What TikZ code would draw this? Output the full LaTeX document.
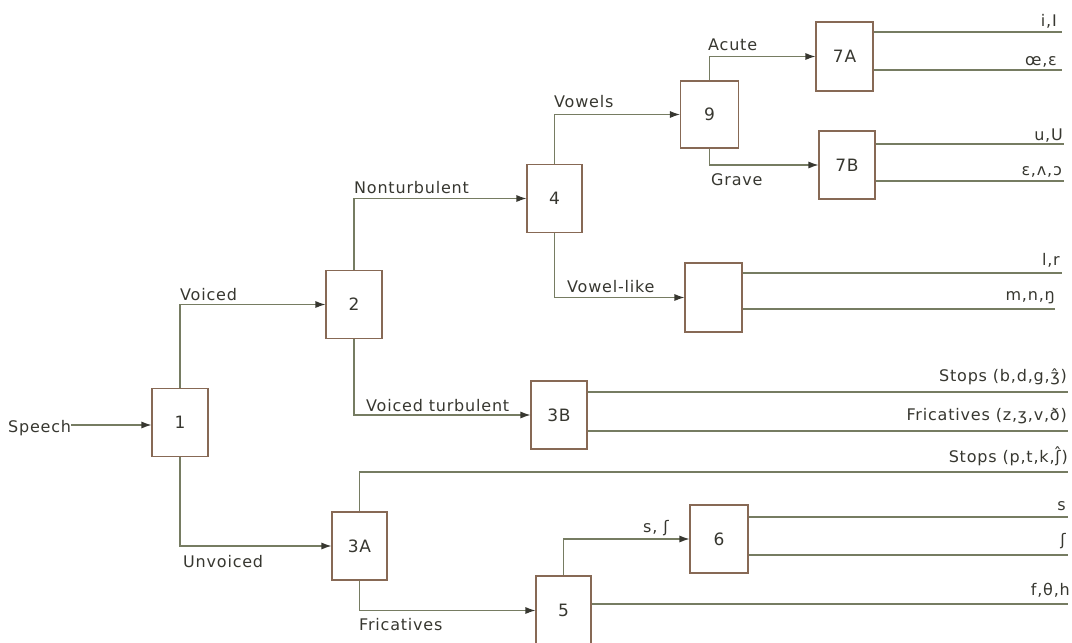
\documentclass[tikz,border=0pt]{standalone}
\usepackage{fontspec}
\setmainfont{DejaVu Sans}[LetterSpace=5]
\usetikzlibrary{arrows.meta,calc}
\definecolor{wirec}{RGB}{118,124,98}
\definecolor{boxc}{RGB}{135,105,85}
\definecolor{ink}{RGB}{55,55,48}
\begin{document}
\begin{tikzpicture}[x=1pt,y=-1pt,
  every node/.style={text=ink,font=\fontsize{16}{18}\selectfont},
  blk/.style={draw=boxc,line width=1.1pt,minimum width=56pt,minimum height=68pt,inner sep=0pt,fill=white,font=\fontsize{17}{18}\selectfont},
  wire/.style={draw=wirec,line width=1.1pt},
  arr/.style={wire,-{Latex[length=10pt,width=7pt,color=ink]}},
  lab/.style={anchor=base west,inner sep=0pt},
  rlab/.style={anchor=base east,inner sep=0pt,font=\fontsize{16}{18}\selectfont}]
\useasboundingbox (0,0) rectangle (1072,643);
\clip (0,0) rectangle (1072,643);
% boxes
\node[blk] (b1) at (180,422.5) {1};
\node[blk] (b2) at (354,304.5) {2};
\node[blk,minimum width=55pt] (b4) at (554.5,198.5) {4};
\node[blk,minimum width=58pt,minimum height=67pt] (b9) at (709.5,114.5) {9};
\node[blk,minimum width=57pt,minimum height=69pt] (b7a) at (844.5,56.5) {7A};
\node[blk] (b7b) at (847,165) {7B};
\node[blk,minimum width=57pt,minimum height=69pt] (bv) at (713.5,297.5) {};
\node[blk] (b3b) at (559,415) {3B};
\node[blk,minimum width=55pt] (b3a) at (359.5,546) {3A};
\node[blk,minimum width=55pt,minimum height=69pt] (b5) at (563.5,610.5) {5};
\node[blk,minimum width=58pt] (b6) at (719,539) {6};
% input
\node[lab] (sp) at (8,432) {Speech};
\draw[arr] (sp.east |- 0,425) -- (b1.west |- 0,425);
% branches
\draw[arr] (b1.north) |- (b2.west);
\draw[arr] (b1.south) |- (b3a.west);
\draw[arr] (b2.north) |- (b4.west);
\draw[arr] (b2.south) |- (b3b.west);
\draw[arr] (b4.north) |- (b9.west);
\draw[arr] (b4.south) |- (bv.west);
\draw[arr] (b9.north) |- (b7a.west);
\draw[arr] (b9.south) |- (b7b.west);
\draw[arr] (b3a.south) |- (b5.west);
\draw[arr] (b5.north) |- (b6.west);
% branch labels
\node[lab] (lvoiced) at (180,300) {Voiced};
\node[lab] (lunvoiced) at (183,567) {Unvoiced};
\node[lab] (lnont) at (354,193) {Nonturbulent};
\node[lab] (lvt) at (366,411) {Voiced turbulent};
\node[lab] (lvow) at (554,107) {Vowels};
\node[lab] (lvl) at (567,292) {Vowel-like};
\node[lab] (lac) at (708,50) {Acute};
\node[lab] (lgr) at (711,185) {Grave};
\node[lab] (lfr) at (359,630) {Fricatives};
\node[lab] (lss) at (643,532) {s, ʃ};
% outputs
\coordinate (o7a1) at (1062,32);
\coordinate (o7a2) at (1062,70);
\coordinate (o7b1) at (1064,144);
\coordinate (o7b2) at (1064,181);
\coordinate (ov1) at (1062,273);
\coordinate (ov2) at (1055,309);
\coordinate (o3b1) at (1068,392);
\coordinate (o3b2) at (1068,431);
\coordinate (ostop) at (1068,472);
\coordinate (o61) at (1068,517);
\coordinate (o62) at (1068,555);
\coordinate (o5) at (1068,604);
\draw[wire] (b7a.east |- o7a1) -- (o7a1);
\draw[wire] (b7a.east |- o7a2) -- (o7a2);
\draw[wire] (b7b.east |- o7b1) -- (o7b1);
\draw[wire] (b7b.east |- o7b2) -- (o7b2);
\draw[wire] (bv.east |- ov1) -- (ov1);
\draw[wire] (bv.east |- ov2) -- (ov2);
\draw[wire] (b3b.east |- o3b1) -- (o3b1);
\draw[wire] (b3b.east |- o3b2) -- (o3b2);
\draw[wire] (b3a.north) |- (ostop);
\draw[wire] (b6.east |- o61) -- (o61);
\draw[wire] (b6.east |- o62) -- (o62);
\draw[wire] (b5.east |- o5) -- (o5);
% output labels
\node[rlab] (t7a1) at (1057,26) {i,I};
\node[rlab] (t7a2) at (1057,65) {œ,ɛ};
\node[rlab] (t7b1) at (1063,140) {u,U};
\node[rlab] (t7b2) at (1062,175) {ɛ,ʌ,ɔ};
\node[rlab] (tv1) at (1060,265) {l,r};
\node[rlab] (tv2) at (1055,300) {m,n,ŋ};
\node[rlab] (t3b1) at (1067,381) {Stops (b,d,g,ʒ̂)};
\node[rlab] (t3b2) at (1067,420) {Fricatives (z,ʒ,v,ð)};
\node[rlab] (tstop) at (1068,462) {Stops (p,t,k,ʃ̂)};
\node[rlab] (t61) at (1066,510) {s};
\node[rlab] (t62) at (1066,545) {ʃ};
\node[rlab] (t5) at (1070,595) {f,θ,h};
\end{tikzpicture}
\end{document}
